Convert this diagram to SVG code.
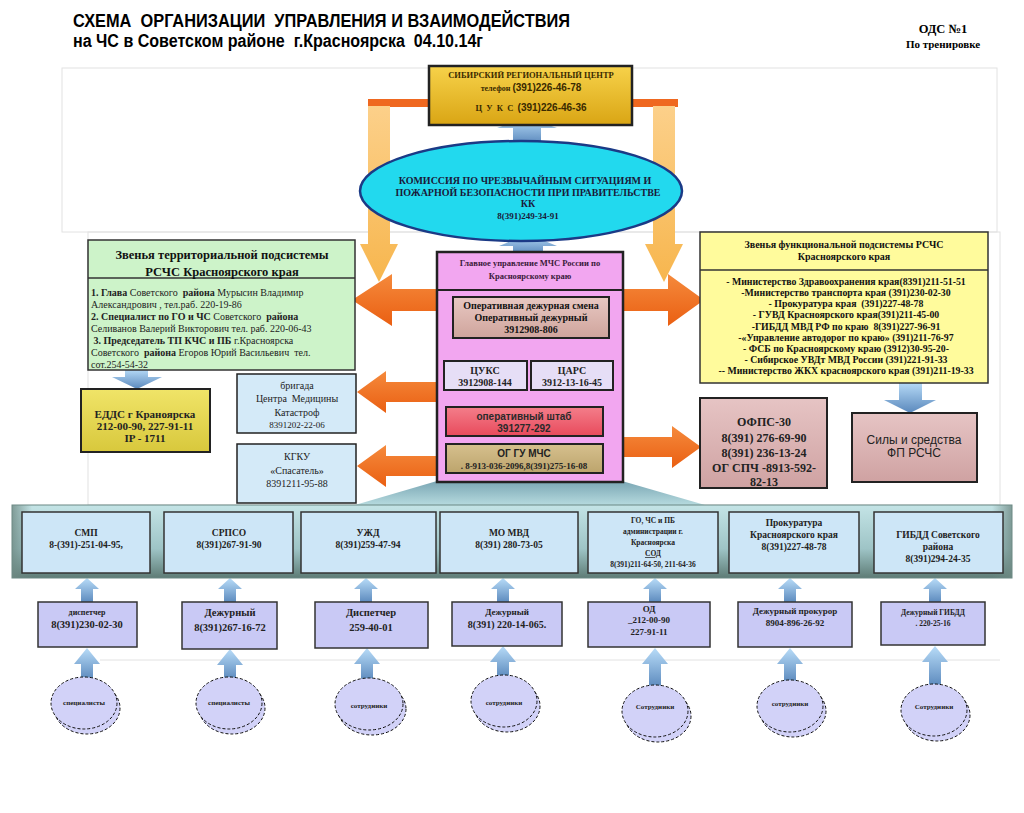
<svg xmlns="http://www.w3.org/2000/svg" width="1024" height="813" viewBox="0 0 1024 813">
<style>
.s{font-family:"Liberation Serif","Times New Roman",serif}
.a{font-family:"Liberation Sans",Arial,sans-serif}
.b{font-weight:bold}
.c{text-anchor:middle}
text{white-space:pre}
.faint{fill:none;stroke:#e2e2e2;stroke-width:1}
.ell{fill:#d2d2f8;stroke:#111;stroke-width:1;stroke-dasharray:3 2}
</style>
<defs>
<linearGradient id="gold" x1="0" y1="0" x2="0" y2="1"><stop offset="0" stop-color="#f7d24a"/><stop offset="1" stop-color="#d9a514"/></linearGradient>
<linearGradient id="blueA" x1="0" y1="0" x2="0" y2="1"><stop offset="0" stop-color="#b8dcf8"/><stop offset="1" stop-color="#5a88bc"/></linearGradient>
<linearGradient id="yelA" x1="0" y1="0" x2="0" y2="1"><stop offset="0" stop-color="#fcd08a"/><stop offset="1" stop-color="#f7b64e"/></linearGradient>
<linearGradient id="orA" x1="0" y1="0" x2="0" y2="1"><stop offset="0" stop-color="#f58a3c"/><stop offset="1" stop-color="#ea5f12"/></linearGradient>
<linearGradient id="rose" x1="0" y1="0" x2="0" y2="1"><stop offset="0" stop-color="#e8c8c2"/><stop offset="1" stop-color="#cfa49c"/></linearGradient>
<linearGradient id="red" x1="0" y1="0" x2="0" y2="1"><stop offset="0" stop-color="#f47e8a"/><stop offset="1" stop-color="#e84a5c"/></linearGradient>
<linearGradient id="tan" x1="0" y1="0" x2="0" y2="1"><stop offset="0" stop-color="#d6c08e"/><stop offset="1" stop-color="#bca46c"/></linearGradient>
<linearGradient id="edds" x1="0" y1="0" x2="0" y2="1"><stop offset="0" stop-color="#f0e468"/><stop offset="1" stop-color="#d8c83c"/></linearGradient>
<linearGradient id="ofps" x1="0" y1="0" x2="0" y2="1"><stop offset="0" stop-color="#e6c4c4"/><stop offset="1" stop-color="#cfa2a2"/></linearGradient>
<linearGradient id="band" x1="0" y1="0" x2="0" y2="1"><stop offset="0" stop-color="#c4e4e6"/><stop offset="0.6" stop-color="#9ec4c6"/><stop offset="1" stop-color="#5e7c76"/></linearGradient>
<linearGradient id="bandH" x1="0" y1="0" x2="1" y2="0"><stop offset="0" stop-color="#6f8a84" stop-opacity="0.8"/><stop offset="0.02" stop-color="#6f8a84" stop-opacity="0"/><stop offset="0.98" stop-color="#6f8a84" stop-opacity="0"/><stop offset="1" stop-color="#6f8a84" stop-opacity="0.8"/></linearGradient>
<linearGradient id="trap" x1="0" y1="0" x2="0" y2="1"><stop offset="0" stop-color="#7aa6b4"/><stop offset="1" stop-color="#b6dade"/></linearGradient>
<linearGradient id="redA" x1="0" y1="0" x2="0" y2="1"><stop offset="0" stop-color="#e83030"/><stop offset="1" stop-color="#c01010"/></linearGradient>
</defs>
<rect width="1024" height="813" fill="#ffffff"/>
<rect class="faint" x="62" y="68" width="935" height="164"/>
<rect class="faint" x="88" y="232" width="912" height="273"/>
<line class="faint" x1="100" y1="660" x2="1000" y2="660"/>
<g id="title">
<text class="a b" x="73" y="27" font-size="18" textLength="497" lengthAdjust="spacingAndGlyphs">СХЕМА  ОРГАНИЗАЦИИ  УПРАВЛЕНИЯ И ВЗАИМОДЕЙСТВИЯ</text>
<text class="a b" x="73" y="47" font-size="18" textLength="410" lengthAdjust="spacingAndGlyphs">на ЧС в Советском районе  г.Красноярска  04.10.14г</text>
</g>
<g id="ods">
<text class="s b c" x="943" y="33" font-size="12.5">ОДС №1</text>
<text class="s b c" x="943" y="48" font-size="11">По тренировке</text>
</g>
<g id="connectors">
<rect x="368" y="99" width="62" height="8" fill="#ef6820"/>
<rect x="632" y="99" width="46" height="8" fill="#ef6820"/>
<polygon points="368,106 390,106 390,244 398,244 379,282 360,244 368,244" fill="url(#yelA)"/>
<polygon points="653,106 675,106 675,244 683,244 664,282 645,244 653,244" fill="url(#yelA)"/>
<polygon points="527,117 557,128 541,128 541,144 513,144 513,128 497,128" fill="url(#blueA)"/>
<polygon points="528,234 557,246 543,246 543,254 513,254 513,246 499,246" fill="url(#blueA)"/>
<polygon points="352,300 392,274 392,289 437,289 437,311 392,311 392,326" fill="url(#orA)"/>
<polygon points="704,300 668,274 668,289 622,289 622,311 668,311 668,326" fill="url(#orA)"/>
<polygon points="357,392 386,371 386,382 437,382 437,402 386,402 386,413" fill="url(#orA)"/>
<polygon points="357,466 386,445 386,456 437,456 437,476 386,476 386,487" fill="url(#orA)"/>
<polygon points="701,447 672,426 672,437 622,437 622,457 672,457 672,468" fill="url(#orA)"/>
<polygon points="125,369 148,369 148,377 162,377 137,389 112,377 125,377" fill="url(#blueA)"/>
<polygon points="899,382 922,382 922,400 936,400 910,413 884,400 899,400" fill="url(#blueA)"/>
<polygon points="480,339 498,339 498,349 506,349 489,359 472,349 480,349" fill="url(#redA)"/>
<polygon points="560,339 578,339 578,349 586,349 569,359 552,349 560,349" fill="url(#redA)"/>
<polygon points="437,481 622,481 705,505 355,505" fill="url(#trap)"/>
<g fill="url(#blueA)">
<polygon points="87,578 99,589 93,589 93,603 81,603 81,589 75,589"/>
<polygon points="230,578 242,589 236,589 236,603 224,603 224,589 218,589"/>
<polygon points="366,578 378,589 372,589 372,603 360,603 360,589 354,589"/>
<polygon points="503,578 515,589 509,589 509,603 497,603 497,589 491,589"/>
<polygon points="655,578 667,589 661,589 661,603 649,603 649,589 643,589"/>
<polygon points="790,578 802,589 796,589 796,603 784,603 784,589 778,589"/>
<polygon points="935,578 947,589 941,589 941,603 929,603 929,589 923,589"/>
</g>
<g fill="url(#blueA)">
<polygon points="87,648 100,664 93,664 93,680 81,680 81,664 74,664"/>
<polygon points="230,649 243,665 236,665 236,680 224,680 224,665 217,665"/>
<polygon points="367,648 380,664 373,664 373,681 361,681 361,664 354,664"/>
<polygon points="503,646 516,662 509,662 509,678 497,678 497,662 490,662"/>
<polygon points="655,648 668,664 661,664 661,688 649,688 649,664 642,664"/>
<polygon points="790,648 803,664 796,664 796,683 784,683 784,664 777,664"/>
<polygon points="935,646 948,662 941,662 941,687 929,687 929,662 922,662"/>
</g>
</g>
<g id="sib">
<rect x="429" y="66" width="203" height="59" fill="url(#gold)" stroke="#222" stroke-width="2.5"/>
<text class="s b c" x="531" y="78" font-size="8.5" fill="#3a2a00">СИБИРСКИЙ РЕГИОНАЛЬНЫЙ ЦЕНТР</text>
<text class="c" x="531" y="91" fill="#3a2a00"><tspan class="s b" font-size="8">телефон </tspan><tspan class="a b" font-size="10">(391)226-46-78</tspan></text>
<text class="c" x="531" y="111" fill="#3a2a00"><tspan class="s b" font-size="8.5">Ц  У  К  С  </tspan><tspan class="a b" font-size="10">(391)226-46-36</tspan></text>
</g>
<g id="kchs">
<ellipse cx="521" cy="191" rx="161" ry="50" fill="#22d9ee" stroke="#1b3a86" stroke-width="2.5"/>
<text class="s b c" x="525" y="184" font-size="10" fill="#1a1a3a">КОМИССИЯ ПО ЧРЕЗВЫЧАЙНЫМ СИТУАЦИЯМ И</text>
<text class="s b c" x="528" y="196" font-size="10" fill="#1a1a3a">ПОЖАРНОЙ БЕЗОПАСНОСТИ ПРИ ПРАВИТЕЛЬСТВЕ</text>
<text class="s b c" x="528" y="207" font-size="10" fill="#1a1a3a">КК</text>
<text class="s b c" x="528" y="219" font-size="9" fill="#1a1a3a">8(391)249-34-91</text>
</g>
<g id="terr">
<rect x="88" y="240" width="267" height="130" fill="#cdf3c9" stroke="#333" stroke-width="1.5"/>
<line x1="88" y1="278" x2="355" y2="278" stroke="#333" stroke-width="1.5"/>
<text class="s b c" x="222" y="259" font-size="12.5" fill="#111">Звенья территориальной подсистемы</text>
<text class="s b c" x="222" y="276" font-size="12.5" fill="#111">РСЧС Красноярского края</text>
<g class="s" font-size="10" fill="#222">
<text x="91" y="296"><tspan class="b">1. Глава</tspan> Советского  <tspan class="b">района</tspan> Мурысин Владимир</text>
<text x="91" y="308">Александрович , тел.раб. 220-19-86</text>
<text x="91" y="320"><tspan class="b">2. Специалист по ГО и ЧС</tspan> Советского  <tspan class="b">района</tspan></text>
<text x="91" y="332">Селиванов Валерий Викторович тел. раб. 220-06-43</text>
<text x="91" y="344"><tspan class="b"> 3. Председатель ТП КЧС и ПБ</tspan> г.Красноярска</text>
<text x="91" y="356">Советского  <tspan class="b">района</tspan> Егоров Юрий Васильевич  тел.</text>
<text x="91" y="368">сот.254-54-32</text>
</g>
</g>
<g id="mchs">
<rect x="437" y="252" width="186" height="230" fill="#f2a6f0" stroke="#222" stroke-width="2.5"/>
<line x1="437" y1="290" x2="623" y2="290" stroke="#222" stroke-width="2"/>
<text class="s b c" x="530" y="266" font-size="8.5" fill="#3a1a3a">Главное управление МЧС России по</text>
<text class="s b c" x="530" y="279" font-size="8.5" fill="#3a1a3a">Красноярскому краю</text>
</g>
<g id="odsmena">
<rect x="453" y="297" width="156" height="41" fill="url(#rose)" stroke="#222" stroke-width="2"/>
<text class="s b c" x="531" y="309" font-size="10" fill="#111">Оперативная дежурная смена</text>
<text class="s b c" x="531" y="321" font-size="10" fill="#111">Оперативный дежурный</text>
<text class="s b c" x="531" y="333" font-size="10" fill="#111">3912908-806</text>
</g>
<g id="tsuks">
<rect x="444" y="361" width="83" height="29" fill="#e6def6" stroke="#222" stroke-width="2"/>
<text class="s b c" x="485" y="374" font-size="10" fill="#222">ЦУКС</text>
<text class="s b c" x="485" y="386" font-size="10" fill="#222">3912908-144</text>
</g>
<g id="tsars">
<rect x="531" y="361" width="82" height="29" fill="#e6def6" stroke="#222" stroke-width="2"/>
<text class="s b c" x="572" y="374" font-size="10" fill="#222">ЦАРС</text>
<text class="s b c" x="572" y="386" font-size="10" fill="#222">3912-13-16-45</text>
</g>
<g id="shtab">
<rect x="446" y="407" width="157" height="29" fill="url(#red)" stroke="#222" stroke-width="2"/>
<text class="a b c" x="524" y="420" font-size="10" fill="#2a2a2a">оперативный штаб</text>
<text class="a b c" x="524" y="432" font-size="10" fill="#2a2a2a">391277-292</text>
</g>
<g id="oggu">
<rect x="446" y="444" width="157" height="29" fill="url(#tan)" stroke="#222" stroke-width="2"/>
<text class="a b c" x="524" y="457" font-size="10" fill="#222">ОГ ГУ МЧС</text>
<text class="s b c" x="524" y="469" font-size="9" fill="#222">. 8-913-036-2096,8(391)275-16-08</text>
</g>
<g id="func">
<rect x="700" y="232" width="288" height="151" fill="#fffb9c" stroke="#333" stroke-width="1.5"/>
<line x1="700" y1="270" x2="988" y2="270" stroke="#333" stroke-width="1.5"/>
<text class="s b c" x="844" y="248" font-size="10" fill="#111">Звенья функциональной подсистемы РСЧС</text>
<text class="s b c" x="844" y="260" font-size="10" fill="#111">Красноярского края</text>
<g class="s b c" font-size="9.8" fill="#111">
<text x="846" y="285">- Министерство Здравоохранения края(8391)211-51-51</text>
<text x="846" y="296">-Министерство транспорта края (391)230-02-30</text>
<text x="846" y="307">- Прокуратура края  (391)227-48-78</text>
<text x="846" y="318">- ГУВД Красноярского края(391)211-45-00</text>
<text x="846" y="330">-ГИБДД МВД РФ по краю  8(391)227-96-91</text>
<text x="846" y="341">-«Управление автодорог по краю» (391)211-76-97</text>
<text x="846" y="352">- ФСБ по Красноярскому краю (3912)30-95-20-</text>
<text x="846" y="363">- Сибирское УВДт МВД России (391)221-91-33</text>
<text x="846" y="374">-- Министерство ЖКХ красноярского края (391)211-19-33</text>
</g>
</g>
<g id="edds">
<rect x="81" y="389" width="129" height="63" fill="url(#edds)" stroke="#222" stroke-width="2"/>
<text class="s b c" x="145" y="418" font-size="11" fill="#222">ЕДДС г Краноярска</text>
<text class="s b c" x="145" y="430" font-size="11" fill="#222">212-00-90, 227-91-11</text>
<text class="s b c" x="145" y="442" font-size="11" fill="#222">IP - 1711</text>
</g>
<g id="brigada">
<rect x="237" y="374" width="119" height="59" fill="#d4eaf8" stroke="#222" stroke-width="1.5"/>
<text class="s c" x="297" y="389" font-size="10" fill="#222">бригада</text>
<text class="s c" x="297" y="402" font-size="10" fill="#222">Центра  Медицины</text>
<text class="s c" x="297" y="416" font-size="10" fill="#222">Катастроф</text>
<text class="s c" x="297" y="428" font-size="9" fill="#222">8391202-22-06</text>
</g>
<g id="kgku">
<rect x="237" y="444" width="119" height="59" fill="#d4eaf8" stroke="#222" stroke-width="1.5"/>
<text class="s c" x="297" y="460" font-size="10" fill="#222">КГКУ</text>
<text class="s c" x="297" y="474" font-size="10" fill="#222">«Спасатель»</text>
<text class="s c" x="297" y="487" font-size="10" fill="#222">8391211-95-88</text>
</g>
<g id="ofps">
<rect x="700" y="398" width="127" height="90" fill="url(#ofps)" stroke="#222" stroke-width="2"/>
<text class="s b c" x="764" y="426" font-size="12" fill="#222">ОФПС-30</text>
<text class="s b c" x="764" y="442" font-size="12" fill="#222">8(391) 276-69-90</text>
<text class="s b c" x="764" y="457" font-size="12" fill="#222">8(391) 236-13-24</text>
<text class="s b c" x="764" y="472" font-size="12" fill="#222">ОГ СПЧ -8913-592-</text>
<text class="s b c" x="764" y="486" font-size="12" fill="#222">82-13</text>
</g>
<g id="sily">
<rect x="852" y="413" width="125" height="69" fill="url(#ofps)" stroke="#222" stroke-width="2"/>
<text class="a c" x="914" y="444" font-size="12" fill="#222">Силы и средства</text>
<text class="a c" x="914" y="457" font-size="12" fill="#222">ФП РСЧС</text>
</g>
<g id="band">
<rect x="12" y="505" width="1000" height="73" fill="url(#band)" stroke="#6a8884" stroke-width="1"/>
<rect x="12" y="505" width="1000" height="73" fill="url(#bandH)"/>
</g>
<g id="row" class="s b c" font-size="9.5" fill="#222">
<g id="smp"><rect x="22" y="512" width="128" height="61" fill="#cde6f7" stroke="#333" stroke-width="1.5"/>
<text x="86" y="536">СМП</text><text x="86" y="548">8-(391)-251-04-95,</text></g>
<g id="srpso"><rect x="164" y="512" width="129" height="61" fill="#cde6f7" stroke="#333" stroke-width="1.5"/>
<text x="229" y="536">СРПСО</text><text x="229" y="548">8(391)267-91-90</text></g>
<g id="uzhd"><rect x="301" y="512" width="135" height="61" fill="#cde6f7" stroke="#333" stroke-width="1.5"/>
<text x="368" y="536">УЖД</text><text x="368" y="548">8(391)259-47-94</text></g>
<g id="momvd"><rect x="440" y="512" width="138" height="61" fill="#cde6f7" stroke="#333" stroke-width="1.5"/>
<text x="509" y="536">МО МВД</text><text x="509" y="548">8(391) 280-73-05</text></g>
<g id="gochs"><rect x="588" y="512" width="130" height="61" fill="#cde6f7" stroke="#333" stroke-width="1.5"/>
<text x="653" y="523" font-size="7.5">ГО, ЧС и ПБ</text><text x="653" y="534" font-size="7.5">администрации г.</text><text x="653" y="545" font-size="7.5">Красноярска</text><text x="653" y="556" font-size="7.5" text-decoration="underline">СОД</text><text x="653" y="567" font-size="7.5">8(391)211-64-50, 211-64-36</text></g>
<g id="prok"><rect x="729" y="512" width="130" height="61" fill="#cde6f7" stroke="#333" stroke-width="1.5"/>
<text x="794" y="526">Прокуратура</text><text x="794" y="538">Красноярского края</text><text x="794" y="550">8(391)227-48-78</text></g>
<g id="gibdd"><rect x="874" y="512" width="129" height="61" fill="#cde6f7" stroke="#333" stroke-width="1.5"/>
<text x="938" y="538">ГИБДД Советского</text><text x="938" y="550">района</text><text x="938" y="562">8(391)294-24-35</text></g>
</g>
<g id="duty" class="s b c" fill="#222">
<g id="d1"><rect x="38" y="602" width="99" height="45" fill="#c9c9f5" stroke="#333" stroke-width="1.5"/>
<text x="87" y="615" font-size="8">диспетчер</text><text x="87" y="628" font-size="10.5">8(391)230-02-30</text></g>
<g id="d2"><rect x="182" y="602" width="95" height="47" fill="#c9c9f5" stroke="#333" stroke-width="1.5"/>
<text x="230" y="616" font-size="10.5">Дежурный</text><text x="230" y="631" font-size="10.5">8(391)267-16-72</text></g>
<g id="d3"><rect x="315" y="602" width="113" height="46" fill="#c9c9f5" stroke="#333" stroke-width="1.5"/>
<text x="371" y="616" font-size="10.5">Диспетчер</text><text x="371" y="631" font-size="10.5">259-40-01</text></g>
<g id="d4"><rect x="452" y="602" width="110" height="44" fill="#c9c9f5" stroke="#333" stroke-width="1.5"/>
<text x="507" y="615" font-size="9">Дежурный</text><text x="507" y="628" font-size="10">8(391) 220-14-065.</text></g>
<g id="d5"><rect x="588" y="602" width="122" height="45" fill="#c9c9f5" stroke="#333" stroke-width="1.5"/>
<text x="649" y="612" font-size="9">ОД</text><text x="649" y="623" font-size="9">_212-00-90</text><text x="649" y="635" font-size="9">227-91-11</text></g>
<g id="d6"><rect x="738" y="602" width="114" height="45" fill="#c9c9f5" stroke="#333" stroke-width="1.5"/>
<text x="795" y="614" font-size="9">Дежурный прокурор</text><text x="795" y="626" font-size="9">8904-896-26-92</text></g>
<g id="d7"><rect x="881" y="602" width="104" height="43" fill="#c9c9f5" stroke="#333" stroke-width="1.5"/>
<text x="933" y="615" font-size="7.5">Дежурный ГИБДД</text><text x="933" y="626" font-size="7.5">. 220-25-16</text></g>
</g>
<g id="staff" class="s b c" font-size="7" fill="#222">
<g id="e1"><ellipse class="ell" cx="87" cy="708" rx="33" ry="26"/><ellipse class="ell" cx="84" cy="703" rx="33" ry="26"/><text x="84" y="705">специалисты</text></g>
<g id="e2"><ellipse class="ell" cx="232" cy="708" rx="33" ry="26"/><ellipse class="ell" cx="229" cy="703" rx="33" ry="26"/><text x="229" y="705">специалисты</text></g>
<g id="e3"><ellipse class="ell" cx="372" cy="709" rx="34" ry="26"/><ellipse class="ell" cx="369" cy="704" rx="34" ry="26"/><text x="369" y="708">сотрудники</text></g>
<g id="e4"><ellipse class="ell" cx="507" cy="706" rx="33" ry="26"/><ellipse class="ell" cx="504" cy="701" rx="33" ry="26"/><text x="504" y="705">сотрудники</text></g>
<g id="e5"><ellipse class="ell" cx="658" cy="716" rx="33" ry="26"/><ellipse class="ell" cx="655" cy="711" rx="33" ry="26"/><text x="655" y="709">Сотрудники</text></g>
<g id="e6"><ellipse class="ell" cx="793" cy="711" rx="33" ry="26"/><ellipse class="ell" cx="790" cy="706" rx="33" ry="26"/><text x="790" y="706">сотрудники</text></g>
<g id="e7"><ellipse class="ell" cx="937" cy="715" rx="33" ry="26"/><ellipse class="ell" cx="934" cy="710" rx="33" ry="26"/><text x="934" y="709">Сотрудники</text></g>
</g>
</svg>
